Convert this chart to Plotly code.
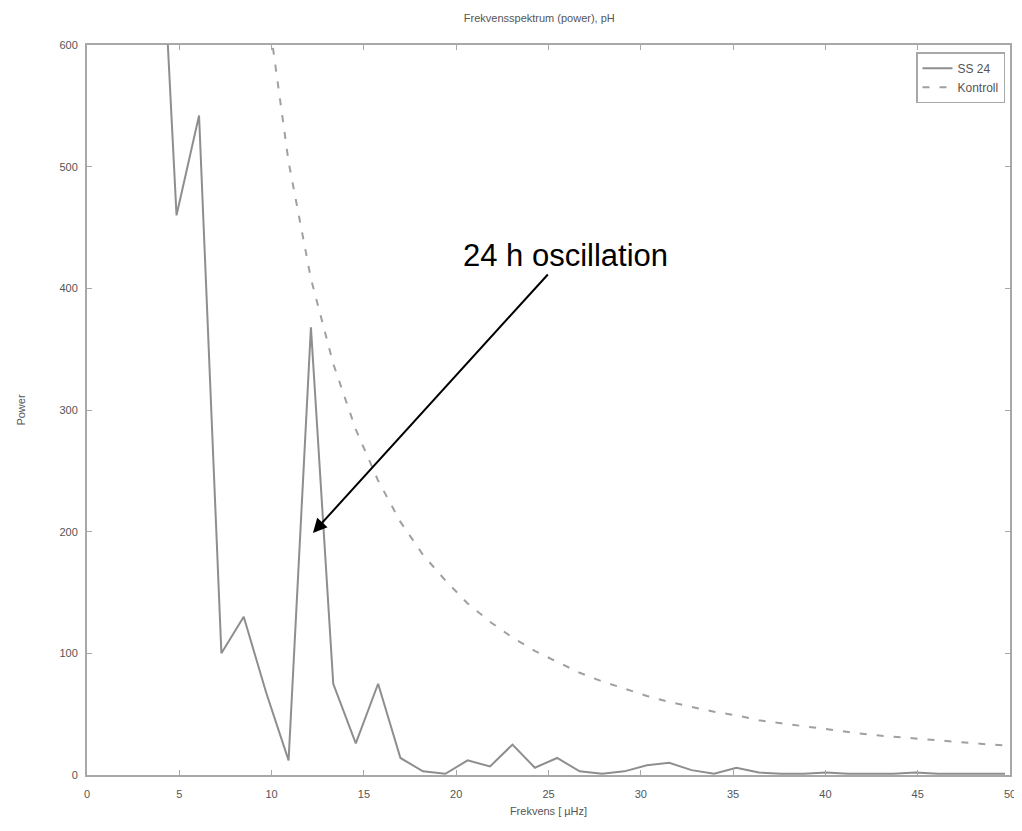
import plotly.graph_objects as go

# frequency bins (µHz)
freq_ss = [1.21, 2.43, 3.64, 4.85, 6.07, 7.28, 8.49, 9.70, 10.92, 12.13,
           13.34, 14.56, 15.77, 16.98, 18.20, 19.41, 20.62, 21.83, 23.05, 24.26,
           25.47, 26.69, 27.90, 29.11, 30.33, 31.54, 32.75, 33.97, 35.18, 36.39,
           37.60, 38.82, 40.03, 41.24, 42.46, 43.67, 44.88, 46.10, 47.31, 48.52,
           49.73]
power_ss = [3000, 1800, 820, 460, 542, 100, 130, 68, 12, 368,
            75, 26, 75, 14, 3, 1, 12, 7, 25, 6,
            14, 3, 1, 3, 8, 10, 4, 1, 6, 2,
            1, 1, 2, 1, 1, 1, 2, 1, 1, 1,
            1]

freq_k = [8.49, 9.70, 10.92, 12.13, 13.34, 14.56, 15.77, 16.98, 18.20, 19.41,
          20.62, 21.83, 23.05, 24.26, 25.47, 26.69, 27.90, 29.11, 30.33, 31.54,
          32.75, 33.97, 35.18, 36.39, 37.60, 38.82, 40.03, 41.24, 42.46, 43.67,
          44.88, 46.10, 47.31, 48.52, 49.73]
power_k = [834, 639, 504, 408, 338, 284, 242, 208, 181, 160,
           141, 126, 113, 102, 93, 84, 77, 71, 65, 60,
           56, 52, 49, 45, 42.5, 40, 37.5, 35, 33, 31.5,
           30, 28, 27, 25.5, 24.3]

gray = "#8e8e8e"
font = dict(family="Liberation Sans, Arial, sans-serif", size=11, color="#555555")

fig = go.Figure()
fig.add_trace(go.Scatter(x=freq_ss, y=power_ss, mode="lines", name="SS 24",
                         line=dict(color=gray, width=2)))
fig.add_trace(go.Scatter(x=freq_k, y=power_k, mode="lines", name="Kontroll",
                         line=dict(color="#a0a0a0", width=2, dash="7px,10px")))

fig.add_annotation(x=12.24, y=199, ax=25.9, ay=427, xref="x", yref="y",
                   axref="x", ayref="y", text="24 h oscillation",
                   font=dict(family="Liberation Sans, Arial, sans-serif", size=31, color="black"),
                   showarrow=True, arrowhead=2, arrowsize=1.4, arrowwidth=2,
                   arrowcolor="black", standoff=0)

axis_common = dict(showline=True, linecolor="#a8a8a8", linewidth=2, mirror="ticks",
                   ticks="inside", ticklen=5, tickcolor="#a8a8a8", showgrid=False,
                   zeroline=False, tickfont=font, automargin=False)

fig.update_xaxes(range=[0, 50], dtick=5, ticklabelstandoff=8, ticklabeloverflow="allow",
                 title=dict(text="Frekvens [ µHz]", font=font, standoff=8),
                 **axis_common)
fig.update_yaxes(range=[0, 600], dtick=100, ticklabelstandoff=5,
                 title=dict(text="Power", font=font, standoff=32),
                 **axis_common)

fig.update_layout(
    width=1012, height=815,
    margin=dict(l=79, r=10, t=37, b=48, autoexpand=False),
    plot_bgcolor="white", paper_bgcolor="white",
    title=dict(text="Frekvensspektrum (power), pH", x=0.525, xanchor="center",
               y=0.987, yanchor="middle", font=font, automargin=False),
    legend=dict(x=0.9946, y=0.99, xanchor="right", yanchor="top",
                bordercolor="#a8a8a8", borderwidth=1.5, bgcolor="white",
                font=dict(family="Liberation Sans, Arial, sans-serif", size=12, color="#555555")),
)

fig.write_html("out.html")
